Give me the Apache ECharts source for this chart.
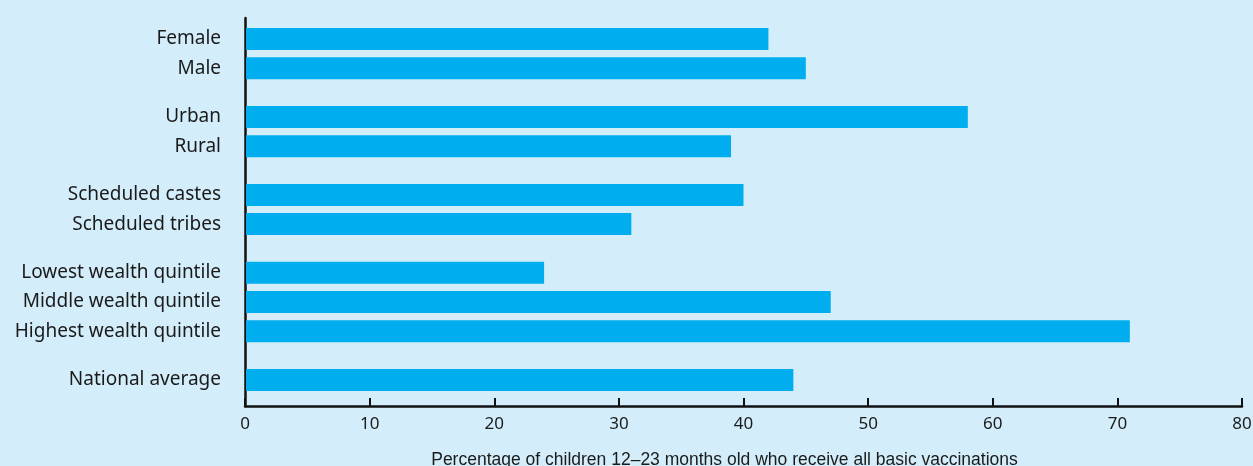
<!DOCTYPE html>
<html>
<head>
<meta charset="utf-8">
<script src="https://cdn.jsdelivr.net/npm/echarts@6/dist/echarts.min.js"></script>
<style>
  html, body { margin: 0; padding: 0; background: #d3eefa; }
  #chart { width: 1253px; height: 466px; }
</style>
</head>
<body>
<div id="chart"></div>
<script>
// ---- data ----
const categories = [
  'Female', 'Male',
  'Urban', 'Rural',
  'Scheduled castes', 'Scheduled tribes',
  'Lowest wealth quintile', 'Middle wealth quintile', 'Highest wealth quintile',
  'National average'
];
const groups = [0, 0, 1, 1, 2, 2, 3, 3, 3, 4];
const values = [42, 45, 58, 39, 40, 31, 24, 47, 71, 44];
const xTicks = [0, 10, 20, 30, 40, 50, 60, 70, 80];
const xTitle = 'Percentage of children 12\u201323 months old who receive all basic vaccinations';

// row slot: 3 units per row, 2 extra units between groups
const rows = categories.map((c, i) => [values[i], i * 3 + groups[i] * 2, c]);

const chart = echarts.init(document.getElementById('chart'), null, { renderer: 'canvas' });
const FONT = '"Noto Sans", "Open Sans", sans-serif';

chart.setOption({
  backgroundColor: '#d3eefa',
  animation: false,
  grid: { left: 245, right: 11, top: 18, bottom: 60, containLabel: false, outerBoundsMode: 'none' },
  xAxis: {
    type: 'value',
    position: 'bottom',
    min: xTicks[0],
    max: xTicks[xTicks.length - 1],
    interval: xTicks[1] - xTicks[0],
    axisLine: { show: true, onZero: false, lineStyle: { color: '#111', width: 2.5 } },
    axisTick: { show: true, inside: true, length: 8, lineStyle: { color: '#111', width: 2 } },
    axisLabel: { color: '#1a1a1a', fontSize: 17, fontFamily: FONT, margin: 10 },
    splitLine: { show: false },
    name: xTitle,
    nameLocation: 'middle',
    nameGap: 45,
    nameTextStyle: {
      color: '#1a1a1a', fontSize: 17.5,
      fontFamily: '"Liberation Sans", Arial, sans-serif',
      padding: [0, 38, 0, 0]
    }
  },
  yAxis: {
    type: 'value',
    inverse: true,
    min: -2.155,
    max: 37.67,
    axisLine: { show: true, onZero: false, lineStyle: { color: '#111', width: 2.5 } },
    axisTick: { show: false },
    axisLabel: { show: false },
    splitLine: { show: false }
  },
  series: [{
    type: 'custom',
    data: rows,
    encode: { x: 0, y: 1 },
    renderItem: function (params, api) {
      const v = api.value(0), pos = api.value(1);
      const p0 = api.coord([0, pos]);
      const p1 = api.coord([v, pos]);
      const h = 22;
      return {
        type: 'group',
        children: [
          {
            type: 'rect',
            shape: { x: p0[0] + 1, y: p0[1] - h / 2, width: p1[0] - p0[0] - 1, height: h },
            style: { fill: '#00aeef' }
          },
          {
            type: 'text',
            style: {
              x: p0[0] - 24, y: p0[1],
              text: rows[params.dataIndex][2],
              align: 'right', verticalAlign: 'middle',
              fill: '#1a1a1a', font: '19px ' + FONT
            }
          }
        ]
      };
    }
  }]
});
</script>
</body>
</html>
